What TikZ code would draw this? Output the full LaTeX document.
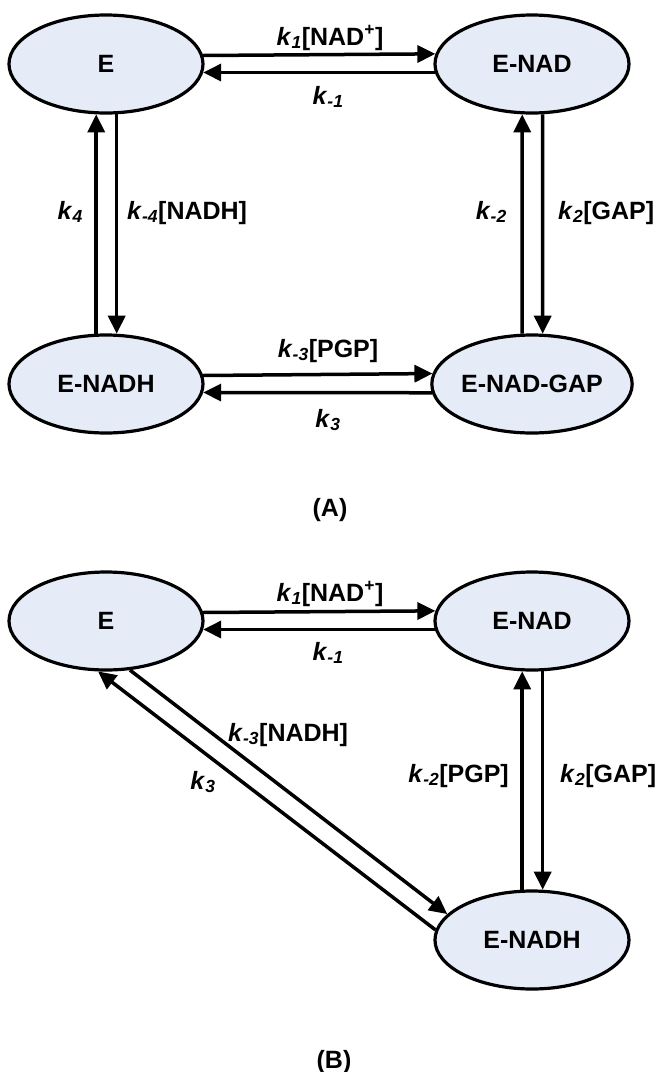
\documentclass[tikz,border=0pt]{standalone}
\usepackage{fontspec}
\setmainfont{Liberation Sans}
\usetikzlibrary{arrows.meta,shapes.geometric}
\definecolor{nodefill}{RGB}{230,236,247}
\newcommand\kk[1]{\textit{k}\textsubscript{\textit{#1}}}
\tikzset{
  enzstate/.style={ellipse, draw=black, line width=3.2pt, fill=nodefill,
    minimum width=194pt, minimum height=98pt, inner sep=0pt,
    font=\fontsize{25}{30}\selectfont\bfseries},
  rxn/.style={line width=3.5pt, -{Triangle[length=18pt,width=17pt]}},
  lab/.style={font=\fontsize{25}{30}\selectfont\bfseries, inner sep=0pt},
}
\begin{document}
\begin{tikzpicture}[x=1pt,y=-1pt]
\useasboundingbox (0,0) rectangle (656,1072);
% ---------- Panel A ----------
\node[enzstate] (aE)    at (106,64)  {E};
\node[enzstate] (aENAD) at (532,64)  {E-NAD};
\node[enzstate] (aENADH) at (106,384) {E-NADH};
\node[enzstate] (aEGAP) at (532,384) {E-NAD-GAP};

\draw[rxn] (aE.5.9) -- (aENAD.174.1);
\draw[rxn] (aENAD.185.9) -- (aE.-5.9);
\draw[rxn] (aENADH.101.2) -- (aE.-101.2);
\draw[rxn] (aE.-78.8) -- (aENADH.78.8);
\draw[rxn] (aEGAP.101.2) -- (aENAD.-101.2);
\draw[rxn] (aENAD.-78.8) -- (aEGAP.78.8);
\draw[rxn] (aENADH.5.9) -- (aEGAP.174.1);
\draw[rxn] (aEGAP.185.9) -- (aENADH.-5.9);

\node[lab, anchor=base] (l1) at (330,45) {\kk{1}[NAD\textsuperscript{+}]};
\node[lab, anchor=base] (l2) at (328,104) {\kk{-1}};
\node[lab, anchor=base east] (l3) at (83,219) {\kk{4}};
\node[lab, anchor=base west] (l4) at (127,219) {\kk{-4}[NADH]};
\node[lab, anchor=base east] (l5) at (507,219) {\kk{-2}};
\node[lab, anchor=base west] (l6) at (558,219) {\kk{2}[GAP]};
\node[lab, anchor=base] (l7) at (328,357) {\kk{-3}[PGP]};
\node[lab, anchor=base] (l8) at (328,427) {\kk{3}};
\node[lab, anchor=base] (capA) at (330,516) {(A)};

% ---------- Panel B ----------
\node[enzstate] (bE)    at (106,621) {E};
\node[enzstate] (bENAD) at (532,621) {E-NAD};
\node[enzstate] (bENADH) at (532,940) {E-NADH};

\draw[rxn] (bE.5.9) -- (bENAD.174.1);
\draw[rxn] (bENAD.185.9) -- (bE.-5.9);
\draw[rxn] (bENADH.101.2) -- (bENAD.-101.2);
\draw[rxn] (bENAD.-78.8) -- (bENADH.78.8);
\draw[rxn] (bE.-64.7) -- (bENADH.163.1);
\draw[rxn] (bENADH.174.6) -- (bE.-99.8);

\node[lab, anchor=base] (m1) at (330,601) {\kk{1}[NAD\textsuperscript{+}]};
\node[lab, anchor=base] (m2) at (328,660) {\kk{-1}};
\node[lab, anchor=base west] (m3) at (228,741) {\kk{-3}[NADH]};
\node[lab, anchor=base] (m4) at (203,789) {\kk{3}};
\node[lab, anchor=base east] (m5) at (509,782) {\kk{-2}[PGP]};
\node[lab, anchor=base west] (m6) at (560,782) {\kk{2}[GAP]};
\node[lab, anchor=base] (capB) at (334,1068) {(B)};
\end{tikzpicture}
\end{document}
